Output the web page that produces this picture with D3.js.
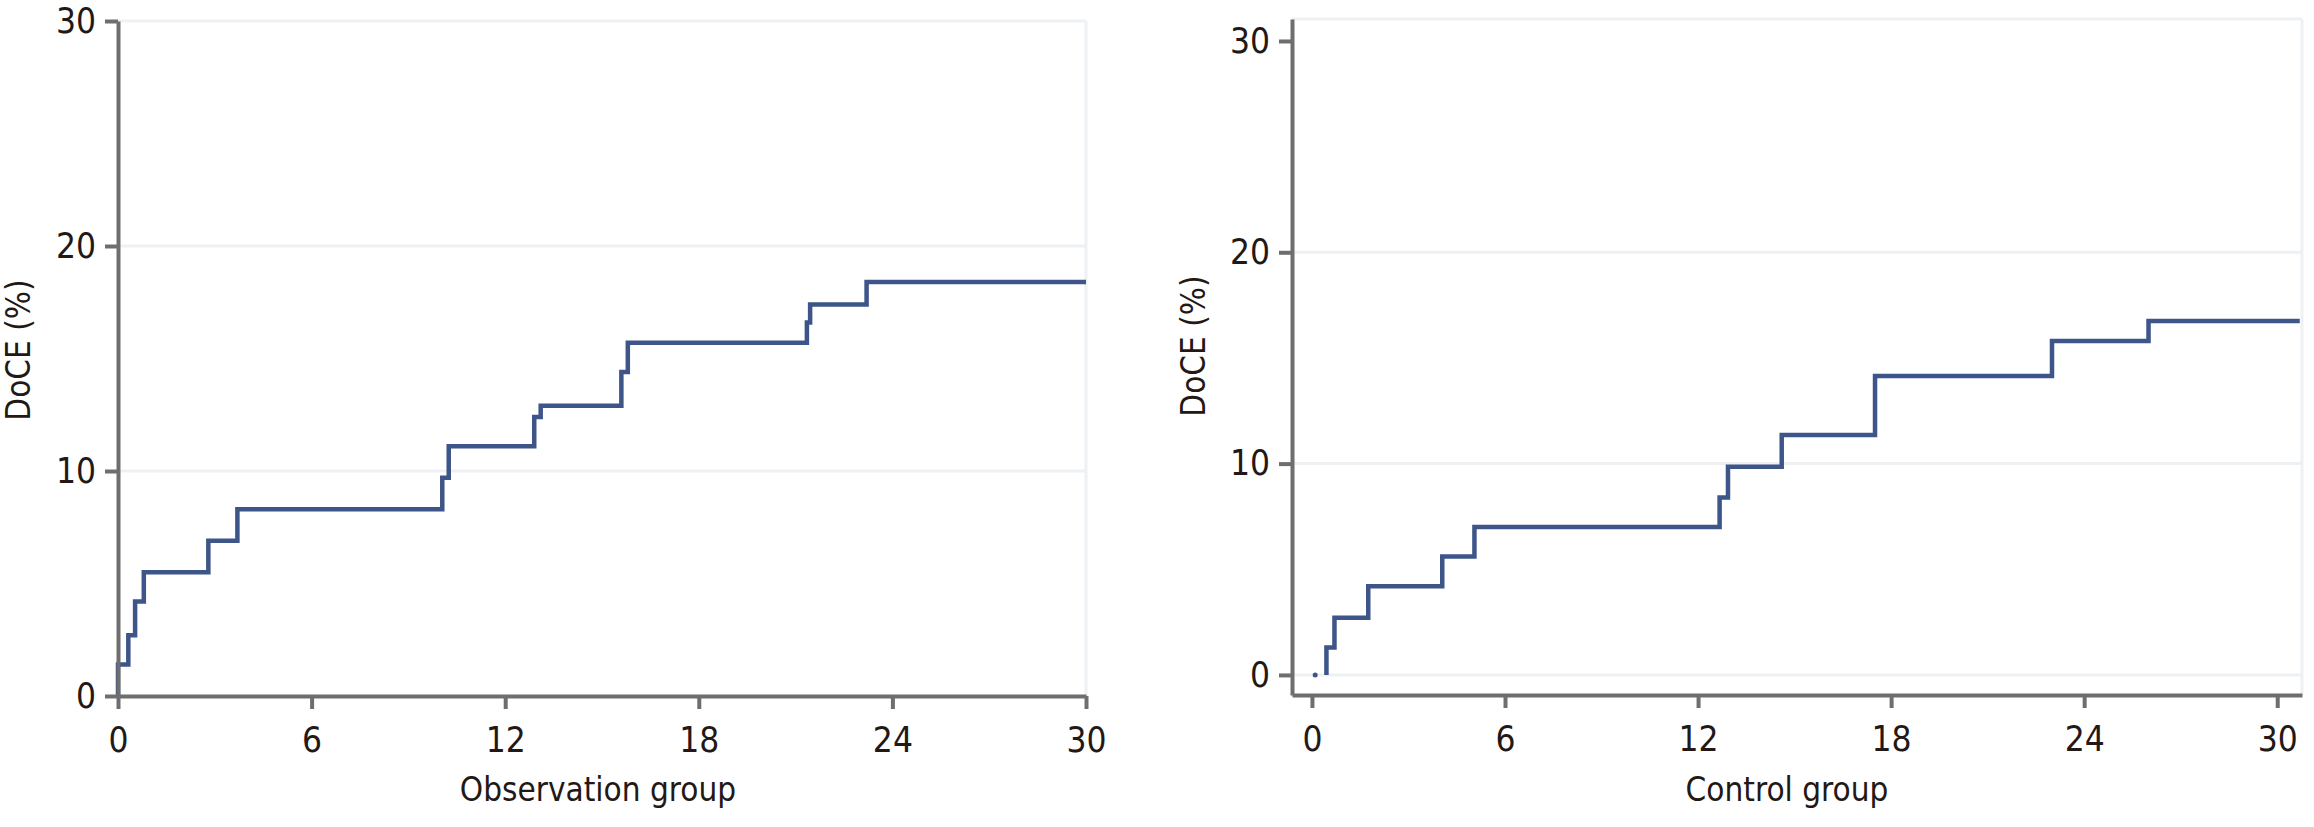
<!DOCTYPE html>
<html>
<head>
<meta charset="utf-8">
<script src="https://cdn.jsdelivr.net/npm/d3@7"></script>
<style>
  html, body { margin: 0; padding: 0; background: #fff; }
  svg text { font-family: 'DejaVu Sans Condensed', 'DejaVu Sans', sans-serif; font-stretch: condensed; fill: #231815; }
</style>
</head>
<body>
<svg id="chart" width="2314" height="827"></svg>
<script>
// tick values shared by both panels
var xTicks = [0, 6, 12, 18, 24, 30];
var yTicks = [0, 10, 20, 30];

// Observation group: month of each step and cumulative DoCE (%) after it
var obsMonths = [0, 0, 0.32, 0.53, 0.8, 2.8, 3.7, 10.05, 10.25, 12.9, 13.1, 15.6, 15.8, 21.35, 21.45, 23.2, 30];
var obsDoce = [0, 1.4, 2.7, 4.2, 5.5, 6.9, 8.3, 9.7, 11.1, 12.4, 12.9, 14.4, 15.7, 16.6, 17.4, 18.4, 18.4];

// Control group
var ctrlMonths = [0.45, 0.45, 0.7, 1.75, 4.05, 5.05, 12.67, 12.93, 14.6, 17.5, 23.0, 26.0, 30.7];
var ctrlDoce = [0, 1.3, 2.7, 4.2, 5.6, 7.0, 8.4, 9.85, 11.35, 14.15, 15.8, 16.75, 16.75];
var ctrlDot = [0.1, 0];

var svg = d3.select('#chart');

function drawPanel(p) {
  var g = svg.append('g');

  var x = d3.scaleLinear().domain(p.xDomain).range([p.left, p.right]);
  var y = d3.scaleLinear().domain(p.yDomain).range([p.bottom, p.top]);

  // light grid + frame
  g.selectAll('.grid')
    .data(p.gridValues)
    .enter().append('line')
    .attr('x1', p.left).attr('x2', p.right)
    .attr('y1', y).attr('y2', y)
    .attr('stroke', '#edf1f4').attr('stroke-width', 3);

  g.append('line')
    .attr('x1', p.left).attr('x2', p.right)
    .attr('y1', p.top).attr('y2', p.top)
    .attr('stroke', '#edf1f4').attr('stroke-width', 3);

  g.append('line')
    .attr('x1', p.right).attr('x2', p.right)
    .attr('y1', p.top).attr('y2', p.bottom)
    .attr('stroke', '#edf1f4').attr('stroke-width', 3);

  // step line
  var pts = p.months.map(function(m, i) { return [m, p.doce[i]]; });
  var line = d3.line()
    .x(function(d) { return x(d[0]); })
    .y(function(d) { return y(d[1]); })
    .curve(d3.curveStepAfter);

  g.append('path')
    .datum(pts)
    .attr('fill', 'none')
    .attr('stroke', '#3d5588')
    .attr('stroke-width', 4.5)
    .attr('d', line);

  if (p.dot) {
    g.append('circle')
      .attr('cx', x(p.dot[0]))
      .attr('cy', y(p.dot[1]))
      .attr('r', 2.5)
      .attr('fill', '#3d5588');
  }

  // axes
  var yAxis = g.append('g')
    .attr('transform', 'translate(' + p.left + ',0)')
    .call(d3.axisLeft(y).tickValues(yTicks).tickSize(13).tickSizeOuter(0).tickPadding(9));

  var xAxis = g.append('g')
    .attr('transform', 'translate(0,' + p.bottom + ')')
    .call(d3.axisBottom(x).tickValues(xTicks).tickSize(13).tickSizeOuter(0).tickPadding(18));

  [yAxis, xAxis].forEach(function(a) {
    a.attr('font-family', null);
    a.select('.domain').attr('stroke', '#6e6e6e').attr('stroke-width', 4);
    a.selectAll('.tick line').attr('stroke', '#6e6e6e').attr('stroke-width', 4);
    a.selectAll('.tick text').attr('font-size', 35).attr('fill', '#231815');
  });

  // axis titles
  g.append('text')
    .attr('transform', 'translate(' + p.yTitleX + ',' + p.yTitleY + ') rotate(-90)')
    .attr('text-anchor', 'middle')
    .attr('font-size', 33)
    .text('DoCE (%)');

  g.append('text')
    .attr('x', p.xTitleX)
    .attr('y', 801)
    .attr('text-anchor', 'middle')
    .attr('font-size', 33)
    .text(p.xTitle);
}

drawPanel({
  months: obsMonths,
  doce: obsDoce,
  xDomain: [0, 30],
  yDomain: [0, 30],
  left: 118, right: 1086,
  top: 21, bottom: 696,
  gridValues: [10, 20],
  yTitleX: 30, yTitleY: 350,
  xTitleX: 598,
  xTitle: 'Observation group'
});

drawPanel({
  months: ctrlMonths,
  doce: ctrlDoce,
  dot: ctrlDot,
  xDomain: [-0.62, 30.77],
  yDomain: [-0.95, 31.04],
  left: 1292, right: 2302,
  top: 19, bottom: 695,
  gridValues: [0, 10, 20],
  yTitleX: 1205, yTitleY: 346,
  xTitleX: 1787,
  xTitle: 'Control group'
});
</script>
</body>
</html>
